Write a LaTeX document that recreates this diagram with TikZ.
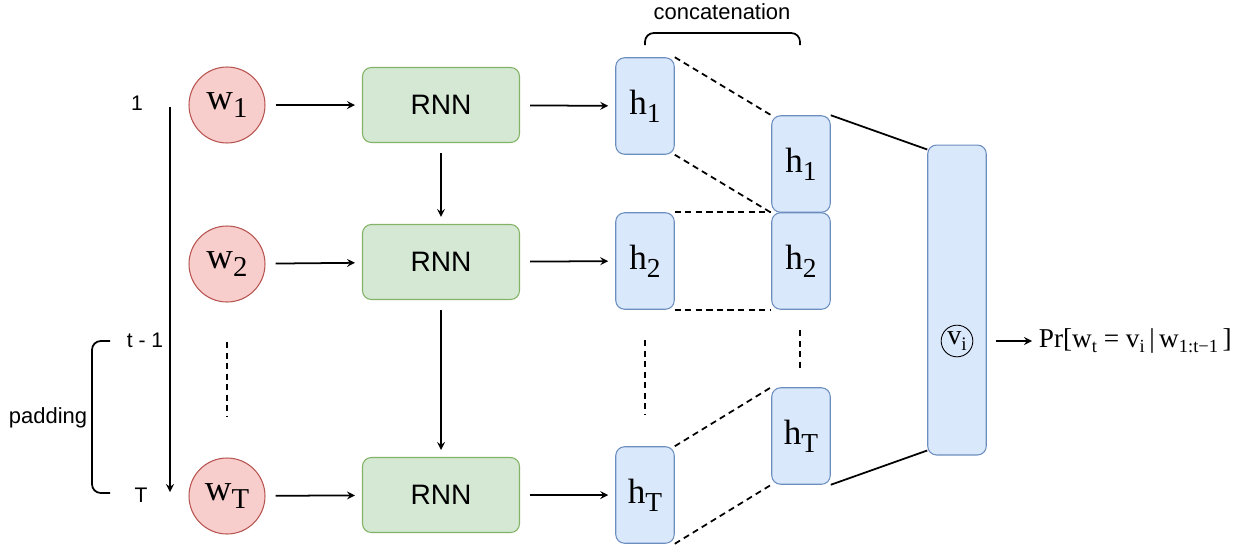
\documentclass[tikz,border=0pt]{standalone}
\usepackage{fontspec}
\setmainfont{Liberation Serif}
\setsansfont{Liberation Sans}
\usetikzlibrary{arrows,positioning}

\definecolor{wordfill}{HTML}{F8CECC}
\definecolor{wordline}{HTML}{B85450}
\definecolor{rnnfill}{HTML}{D5E8D4}
\definecolor{rnnline}{HTML}{82B366}
\definecolor{hidfill}{HTML}{DAE8FC}
\definecolor{hidline}{HTML}{6C8EBF}

\newcommand{\sbs}[1]{\raisebox{-0.22em}{\scalebox{0.78}{#1}}}
\newcommand{\ssbs}[1]{\raisebox{-0.2em}{\scalebox{0.68}{#1}}}

\begin{document}
\begin{tikzpicture}[
        x=0.02cm,
        y=-0.02cm,
        line width=1pt,
        >=stealth,
        word node/.style={
            circle,
            draw=wordline,
            fill=wordfill,
            line width=0.6pt,
            minimum size=1.52cm,
            inner sep=0pt,
            font=\fontsize{21}{21}\selectfont
        },
        rnn node/.style={
            rectangle,
            rounded corners=5pt,
            draw=rnnline,
            fill=rnnfill,
            line width=0.6pt,
            minimum width=3.14cm,
            minimum height=1.5cm,
            font=\sffamily\fontsize{16}{16}\selectfont
        },
        hid node/.style={
            rectangle,
            rounded corners=5pt,
            draw=hidline,
            fill=hidfill,
            line width=0.6pt,
            minimum width=1.17cm,
            minimum height=1.93cm,
            inner sep=0pt,
            font=\fontsize{20}{20}\selectfont
        },
        lbl/.style={font=\sffamily\fontsize{12}{12}\selectfont},
        pil/.style={
           ->,
           shorten <=0.2cm,
           shorten >=0.14cm
        },
        dots/.style={dash pattern=on 3.5pt off 2.5pt}
    ]
    \useasboundingbox (0,0) rectangle (1244,548);

    % words
    \node[word node] (w1) at (227,105) {w\sbs{1}};
    \node[word node] (w2) at (227,264) {w\sbs{2}};
    \node[word node] (wT) at (227,496) {w\sbs{T}};

    % recurrent cells
    \node[rnn node] (rnn1) at (441,105) {RNN};
    \node[rnn node] (rnn2) at (441,262) {RNN};
    \node[rnn node] (rnnT) at (441,495) {RNN};

    % hidden states
    \node[hid node] (h1) at (645,106) {h\sbs{1}};
    \node[hid node] (h2) at (645,261) {h\sbs{2}};
    \node[hid node] (hT) at (645,495) {h\sbs{T}};

    % concatenated states
    \node[hid node] (c1) at (801,164) {h\sbs{1}};
    \node[hid node] (c2) at (801,261) {h\sbs{2}};
    \node[hid node] (cT) at (801,436) {h\sbs{T}};

    % output vector
    \node[hid node, minimum height=6.2cm] (v) at (957,300) {};
    \node[circle, draw, line width=0.5pt, inner sep=1pt, minimum size=0.58cm,
          font=\fontsize{16}{16}\selectfont] (vi) at (957,341) {v\ssbs{i}};
    \node[anchor=west, inner sep=0pt, font=\fontsize{15.5}{15.5}\selectfont] (pr) at (1038,341)
        {Pr[w\ssbs{t} = v\ssbs{i}\,|\,w\ssbs{1:t−1}\,]};

    % time axis
    \node[lbl] (n1) at (137,103) {1};
    \node[lbl] (ntm) at (145,340) {t - 1};
    \node[lbl] (nT) at (141,495) {T};
    \coordinate (ttop) at (170,107);
    \coordinate (tbot) at (170,492);
    \draw[->] (ttop) -- (tbot);

    % padding bracket
    \draw[rounded corners=5pt] (110,341) -- (92,341) -- (92,493) -- (110,493);
    \node[font=\sffamily\fontsize{12.5}{12.5}\selectfont] (pad) at (48,418) {padding};

    % concatenation brace
    \draw[rounded corners=5pt] (645,45) -- (645,33) -- (800,33) -- (800,45);
    \node[font=\sffamily\fontsize{12.5}{12.5}\selectfont] (cat) at (722,12) {concatenation};

    % arrows
    \foreach \i in {1,2,T}{
        \draw[pil] (w\i) -- (rnn\i);
        \draw[pil] (rnn\i) -- (h\i);
    }
    \draw[pil] (rnn1) -- (rnn2);
    \draw[pil] (rnn2) -- (rnnT);
    \draw[->, shorten <=0.18cm, shorten >=0.12cm] (v.east |- vi) -- (pr.west);

    % skipped rows
    \draw[dots] (227,342) -- (227,416);
    \draw[dots] (645,340) -- (645,415);
    \draw[dots] (800,330) -- (800,370);

    % dashed links
    \draw[dots] (h1.north east) -- (c1.north west);
    \draw[dots] (h1.south east) -- (c1.south west);
    \draw[dots] (h2.north east) -- (c2.north west);
    \draw[dots] (h2.south east) -- (c2.south west);
    \draw[dots] (hT.north east) -- (cT.north west);
    \draw[dots] (hT.south east) -- (cT.south west);

    % solid links
    \draw (c1.north east) -- ([yshift=-0.1cm]v.north west);
    \draw (cT.south east) -- ([yshift=0.1cm]v.south west);
\end{tikzpicture}
\end{document}
